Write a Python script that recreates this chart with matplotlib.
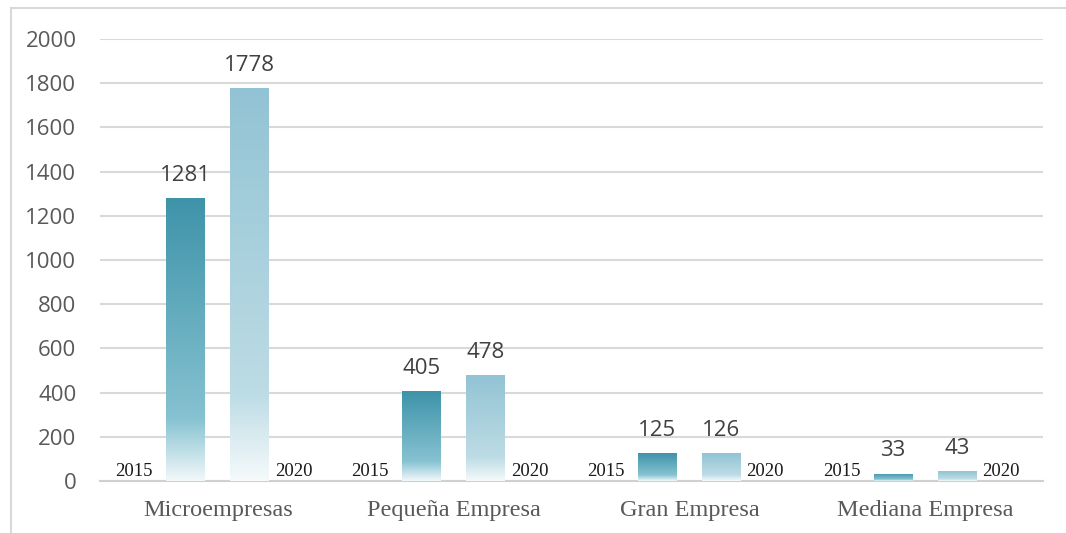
import matplotlib
matplotlib.use("Agg")
import matplotlib.pyplot as plt
import numpy as np
from matplotlib.colors import LinearSegmentedColormap
from matplotlib.lines import Line2D

# data
categorias = ["Microempresas", "Pequeña Empresa", "Gran Empresa", "Mediana Empresa"]
valores_2015 = [1281, 405, 125, 33]
valores_2020 = [1778, 478, 126, 43]
anios = ["2015", "2020"]
yticks = [0, 200, 400, 600, 800, 1000, 1200, 1400, 1600, 1800, 2000]

# gradient fills (bottom -> top)
cmap_2015 = LinearSegmentedColormap.from_list(
    "g2015", [(0.0, "#f2f8fa"), (0.22, "#86c2d1"), (1.0, "#3e93a9")])
cmap_2020 = LinearSegmentedColormap.from_list(
    "g2020", [(0.0, "#f6fafb"), (0.22, "#bddce5"), (1.0, "#92c3d4")])

fig = plt.figure(figsize=(10.66, 5.33), dpi=100)
ax = fig.add_axes([100 / 1066, 1 - 481 / 533, 943 / 1066, 442 / 533])

x = np.arange(len(categorias))
ancho = 0.165
desp = 0.136

grad = np.linspace(0, 1, 256).reshape(-1, 1)


def barras_degradado(pos, vals, cmap):
    bars = ax.bar(pos, vals, ancho, facecolor="none", edgecolor="none", zorder=3)
    for b in bars:
        x0, w, h = b.get_x(), b.get_width(), b.get_height()
        im = ax.imshow(grad, extent=[x0, x0 + w, 0, h], origin="lower",
                       aspect="auto", cmap=cmap, zorder=3, interpolation="bilinear")
        im.set_clip_path(b)
    return bars


b1 = barras_degradado(x - desp, valores_2015, cmap_2015)
b2 = barras_degradado(x + desp, valores_2020, cmap_2020)

# value labels
for bars in (b1, b2):
    for b in bars:
        ax.annotate(f"{int(b.get_height())}",
                    (b.get_x() + b.get_width() / 2, b.get_height()),
                    xytext=(0, 12.5), textcoords="offset points",
                    ha="center", va="baseline", fontsize=16,
                    family="Open Sans", color="#404040", zorder=5)

# year labels beside each pair
for i in x:
    ax.annotate(anios[0], (i - 0.355, 0), xytext=(0, 3.5), textcoords="offset points",
                ha="center", va="baseline", fontsize=13.5,
                family="Liberation Serif", color="#1a1a1a", zorder=5)
    ax.annotate(anios[1], (i + 0.322, 0), xytext=(0, 3.5), textcoords="offset points",
                ha="center", va="baseline", fontsize=13.5,
                family="Liberation Serif", color="#1a1a1a", zorder=5)

ax.set_xlim(-0.5, len(categorias) - 0.5)
ax.set_ylim(0, 2000)
ax.set_yticks(yticks)
ax.set_yticklabels([str(v) for v in yticks], family="Open Sans", fontsize=16,
                   color="#595959")
ax.set_xticks(x)
ax.set_xticklabels(categorias, family="Liberation Serif", fontsize=17.5,
                   color="#595959")
ax.tick_params(axis="y", length=0, pad=17)
ax.tick_params(axis="x", length=0, pad=14)

ax.grid(axis="y", color="#d9d9d9", linewidth=1.5, zorder=0)
ax.set_axisbelow(True)
for s in ("left", "right", "top"):
    ax.spines[s].set_visible(False)
ax.spines["bottom"].set_color("#d0d0d0")
ax.spines["bottom"].set_linewidth(1.5)

# outer frame (left and top edges)
fx = 11 / 1066
fy = 1 - 8 / 533
fig.add_artist(Line2D([fx, fx], [0, fy], color="#d9d9d9", linewidth=1.5))
fig.add_artist(Line2D([fx, 1], [fy, fy], color="#d9d9d9", linewidth=1.5))

fig.savefig("out.png", dpi=100, facecolor="white")
